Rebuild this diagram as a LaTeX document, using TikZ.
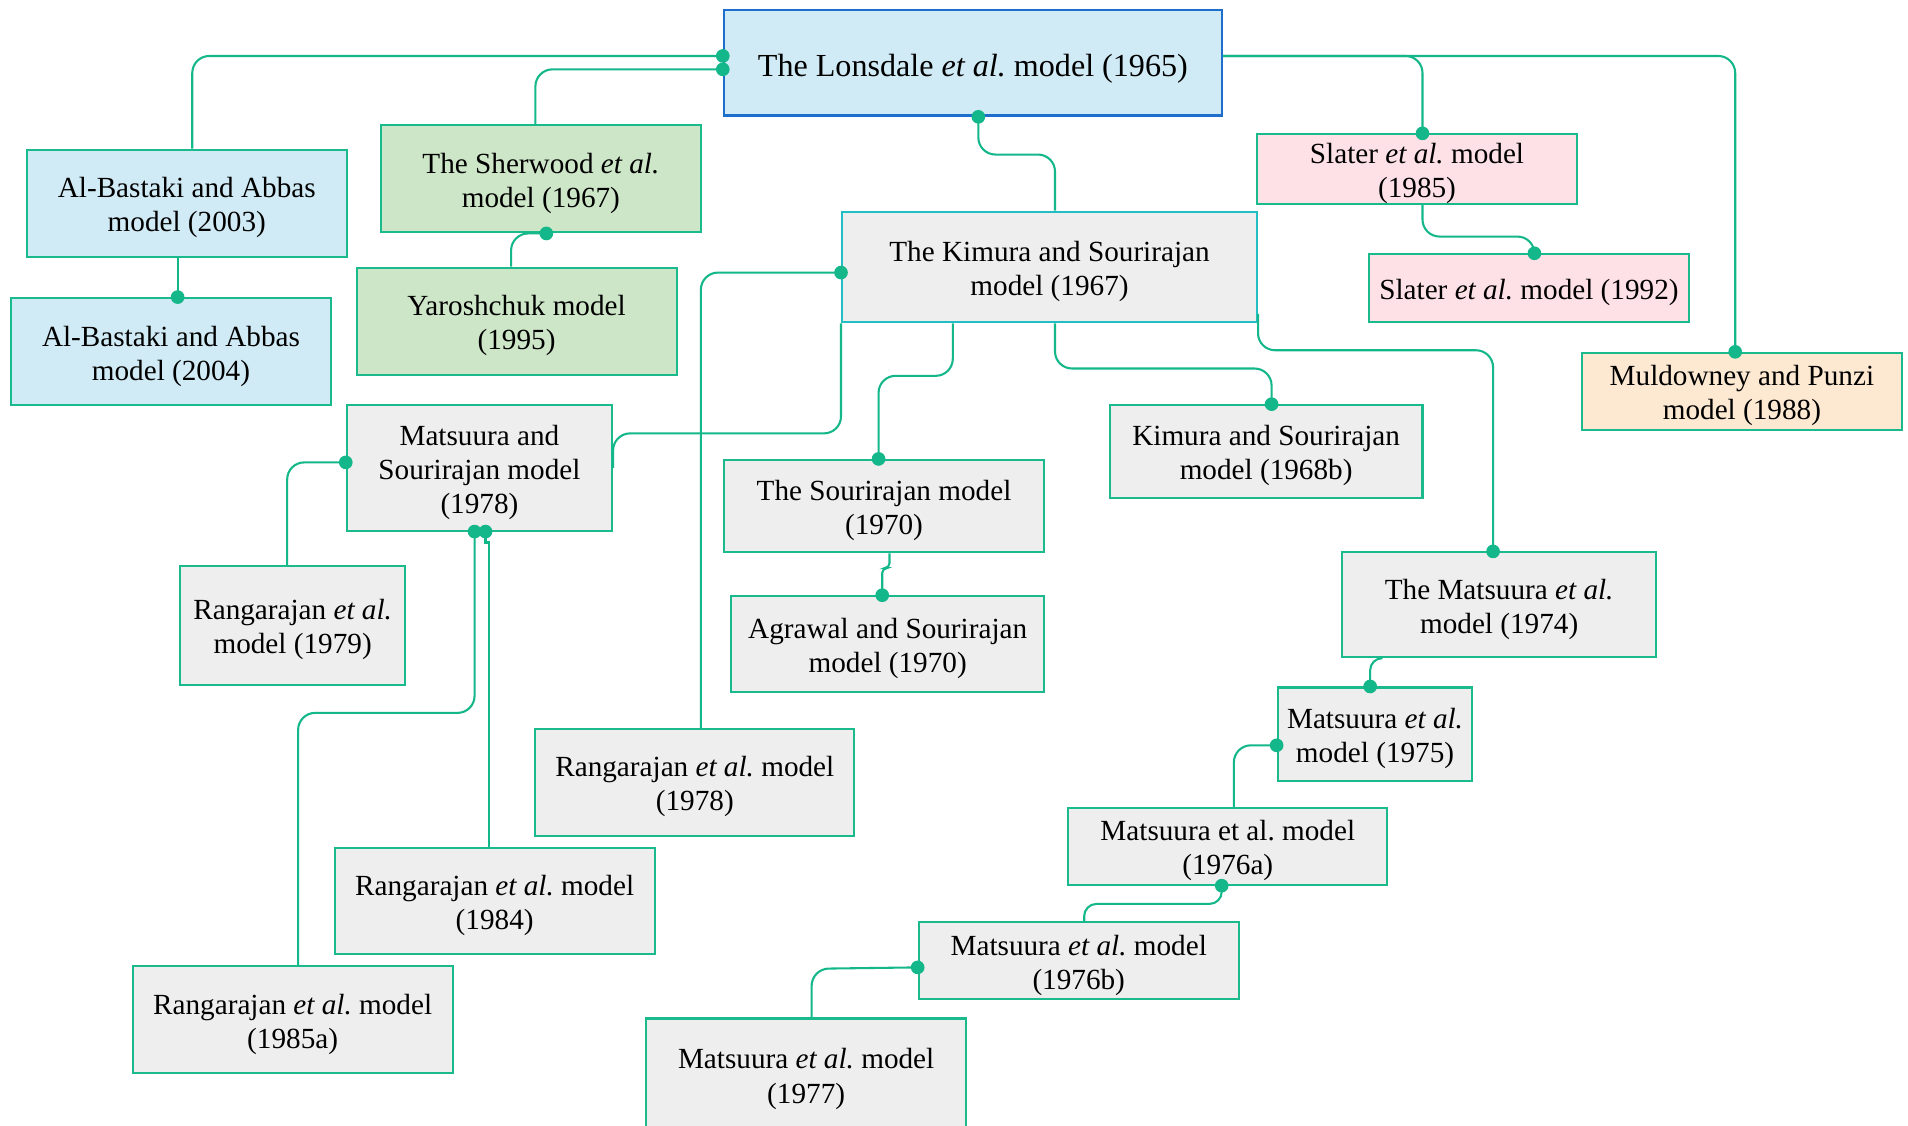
\documentclass[tikz,border=0pt]{standalone}
\usepackage{fontspec}
\setmainfont{Liberation Serif}
\usetikzlibrary{calc,arrows.meta}
\definecolor{linec}{RGB}{20,183,137}
\definecolor{boxb}{RGB}{26,186,140}
\definecolor{kimb}{RGB}{34,190,196}
\definecolor{lonsb}{RGB}{30,110,205}
\definecolor{fblue}{RGB}{208,235,245}
\definecolor{fgreen}{RGB}{205,230,200}
\definecolor{fgray}{RGB}{238,238,238}
\definecolor{fpink}{RGB}{253,225,230}
\definecolor{forange}{RGB}{253,233,210}
\newcommand{\mystrut}{\rule{0pt}{12pt}}
\newcommand{\bigstrut}{\rule{0pt}{14pt}}
\begin{document}
\begin{tikzpicture}[x=0.5pt,y=-0.5pt,
  box/.style={draw=boxb, line width=0.85pt, fill=fgray, inner sep=0pt, align=center,
    font=\fontsize{12}{14}\selectfont\frenchspacing},
  conn/.style={draw=linec, line width=0.85pt, rounded corners=7pt},
  dotend/.style={-{Circle[length=5.6pt]}, shorten >=-2.8pt},
  dotstart/.style={{Circle[length=5.6pt]}-, shorten <=-2.8pt}]
\useasboundingbox (0,0) rectangle (1568,925);
\fill[white] (0,0) rectangle (1568,925);

% nodes
\node[box, fill=fblue, draw=lonsb, line width=1pt, minimum width=204.5pt, minimum height=43.5pt,
  font=\fontsize{13.2}{15.5}\selectfont\frenchspacing] (lons) at (799.5,51.5) {\bigstrut The Lonsdale \textit{et al.} model (1965)};
\node[box, fill=fblue, minimum width=131.5pt, minimum height=44pt] (ab03) at (153.5,167) {\mystrut Al-Bastaki and Abbas\\model (2003)};
\node[box, fill=fblue, minimum width=131.5pt, minimum height=44pt] (ab04) at (140.5,289) {\mystrut Al-Bastaki and Abbas\\model (2004)};
\node[box, fill=fgreen, minimum width=131.5pt, minimum height=44pt] (sher) at (444.5,147) {\mystrut The Sherwood \textit{et al.}\\model (1967)};
\node[box, fill=fgreen, minimum width=131.5pt, minimum height=44pt] (yaro) at (424.5,264) {\mystrut Yaroshchuk model\\(1995)};
\node[box, draw=kimb, minimum width=170.5pt, minimum height=45.5pt] (kim67) at (862.5,219.5) {\mystrut The Kimura and Sourirajan\\model (1967)};
\node[box, fill=fpink, minimum width=131.5pt, minimum height=28pt] (sl85) at (1164.5,139) {\mystrut Slater \textit{et al.} model\\(1985)};
\node[box, fill=fpink, minimum width=131.5pt, minimum height=28pt] (sl92) at (1256.5,237) {\mystrut Slater \textit{et al.} model (1992)};
\node[box, fill=forange, minimum width=131.5pt, minimum height=31.5pt] (muld) at (1431.5,321.5) {\mystrut Muldowney and Punzi\\model (1988)};
\node[box, minimum width=109pt, minimum height=51.5pt] (ms78) at (394,384.5) {\mystrut Matsuura and\\Sourirajan model\\(1978)};
\node[box, minimum width=131.5pt, minimum height=38pt] (sou70) at (726.5,416) {\mystrut The Sourirajan model\\(1970)};
\node[box, minimum width=128.5pt, minimum height=38pt] (kim68) at (1040.5,371) {\mystrut Kimura and Sourirajan\\model (1968b)};
\node[box, minimum width=128.5pt, minimum height=39.5pt] (agr) at (729.5,529.5) {\mystrut Agrawal and Sourirajan\\model (1970)};
\node[box, minimum width=129pt, minimum height=43pt] (mat74) at (1232,497) {\mystrut The Matsuura \textit{et al.}\\model (1974)};
\node[box, minimum width=92.5pt, minimum height=49pt] (r79) at (240.5,514) {\mystrut Rangarajan \textit{et al.}\\model (1979)};
\node[box, minimum width=131pt, minimum height=44pt] (r78) at (571,643) {\mystrut Rangarajan \textit{et al.} model\\(1978)};
\node[box, minimum width=80pt, minimum height=38.5pt] (mat75) at (1130,603.5) {\mystrut Matsuura \textit{et al.}\\model (1975)};
\node[box, minimum width=131pt, minimum height=31.5pt] (mat76a) at (1009,695.5) {\mystrut Matsuura et al. model\\(1976a)};
\node[box, minimum width=131.5pt, minimum height=43.5pt] (r84) at (406.5,740.5) {\mystrut Rangarajan \textit{et al.} model\\(1984)};
\node[box, minimum width=131.5pt, minimum height=31.5pt] (mat76b) at (886.5,789.5) {\mystrut Matsuura \textit{et al.} model\\(1976b)};
\node[box, minimum width=131.5pt, minimum height=44pt] (r85) at (240.5,838) {\mystrut Rangarajan \textit{et al.} model\\(1985a)};
\node[box, minimum width=131.5pt, minimum height=46pt] (mat77) at (662.5,883) {\mystrut Matsuura \textit{et al.} model\\(1977)};

% connectors
\draw[conn,dotstart] ($(lons.west)+(0,-5.5)$) -| ($(ab03.north)+(4.5,0)$);
\draw[conn,dotstart] ($(lons.west)+(0,5.5)$) -| ($(sher.north)+(-4.5,0)$);
\draw[conn,dotstart] ($(lons.south)+(4.5,0)$) -- ++(0,31) -| ($(kim67.north)+(4.5,0)$);
\draw[conn,dotend] ($(lons.east)+(0,-5.5)$) -| ($(sl85.north)+(4.5,0)$);
\draw[conn,dotend] ($(lons.east)+(0,-5.5)$) -| ($(muld.north)+(-5.5,0)$);
\draw[conn,dotend] ($(ab03.south)+(-7.5,0)$) -- ($(ab04.north)+(5.5,0)$);
\draw[conn,dotstart] ($(sher.south)+(4.5,0)$) -| ($(yaro.north)+(-4.5,0)$);
\draw[conn,dotend] ($(sl85.south)+(4.5,0)$) -- ++(0,26) -| ($(sl92.north)+(4.5,0)$);
\draw[conn,dotstart] ($(kim67.west)+(0,4.5)$) -| ($(r78.north)+(5,0)$);
\draw[conn] (kim67.south west) |- ($(ms78.north east)+(0,24)$) -- (ms78.east);
\draw[conn,dotend] ($(kim67.south)+(-79.5,0)$) -- ++(0,43) -| ($(sou70.north)+(-4.5,0)$);
\draw[conn,dotend] ($(kim67.south)+(4.5,0)$) -- ++(0,37) -| ($(kim68.north)+(4.5,0)$);
\draw[conn,dotend] ($(kim67.south east)+(0,-8)$) -- ++(0,30) -| ($(mat74.north)+(-5,0)$);
\draw[conn,dotend,rounded corners=2pt] ($(sou70.south)+(4.5,0)$) -- ++(0,12) -| ($(agr.north)+(-4.5,0)$);
\draw[conn,dotstart] ($(ms78.west)+(0,-4.5)$) -| ($(r79.north)+(-4.5,0)$);
\draw[conn,dotstart] ($(ms78.south)+(-4,0)$) -- ++(0,149) -| ($(r85.north)+(4.5,0)$);
\draw[conn,dotstart,sharp corners] ($(ms78.south)+(5,0)$) -- ++(0,9) -| ($(r84.north)+(-4.5,0)$);
\draw[conn,dotend,rounded corners=5pt] ($(mat74.south)+(-97,0)$) -| ($(mat75.north)+(-4,0)$);
\draw[conn,dotstart] ($(mat75.west)+(0,9)$) -| ($(mat76a.north)+(5,0)$);
\draw[conn,dotstart,rounded corners=5pt] ($(mat76a.south)+(-5,0)$) -- ++(0,15) -| ($(mat76b.north)+(4.5,0)$);
\draw[conn,dotstart] ($(mat76b.west)+(0,5.5)$) -- ($(mat77.north)+(4.5,-40)$) -- ($(mat77.north)+(4.5,0)$);
\end{tikzpicture}
\end{document}
